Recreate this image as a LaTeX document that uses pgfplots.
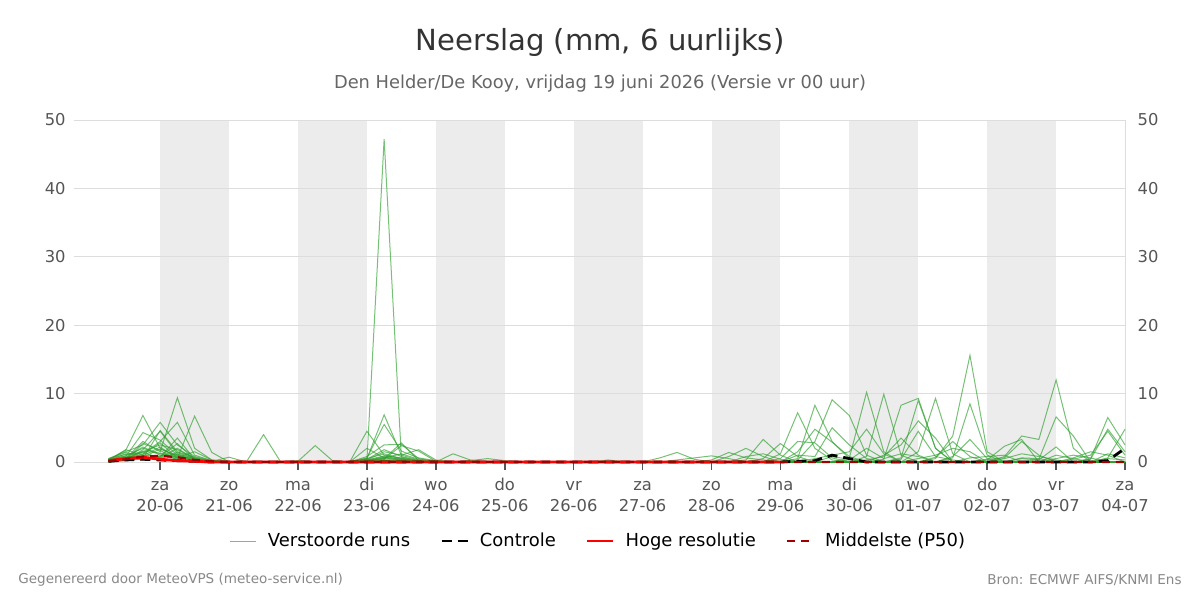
\documentclass[border=0pt]{standalone}
\usepackage{fontspec}
\setmainfont{DejaVu Sans}
\usepackage{pgfplots}
\usepackage{pgfplotstable}
\pgfplotsset{compat=1.18}
\definecolor{band}{HTML}{ECECEC}
\definecolor{gridc}{HTML}{DDDDDD}
\definecolor{ens}{RGB}{44,160,44}
\definecolor{p50}{HTML}{A00000}
\definecolor{titlec}{HTML}{333333}
\definecolor{subc}{HTML}{666666}
\definecolor{tickc}{HTML}{555555}
\definecolor{footc}{HTML}{888888}
\newcommand{\tl}[2]{\strut #1\\\strut #2}

\pgfplotstableread{
h m1 m2 m3 m4 m5 m6 m7 m8 m9 m10 m11 m12 m13 m14 m15 m16 m17 m18 m19 m20
6 0.3 0.2 0.5 0.1 0 0.2 0.4 0.1 0.3 0 0.2 0.1 0.5 0.3 0 0.2 0.1 0.4 0.2 0.1
12 1.7 0.8 1.5 0.5 0.3 1.2 0.9 0.4 1.8 0.2 0.6 0.3 1.1 0.7 0.5 0.9 0.2 1.4 0.6 0.3
18 6.8 4.3 2.5 3.0 1.8 1.2 2.0 1.5 1.0 0.7 2.2 0.5 1.4 0.9 1.6 0.3 2.7 0.8 1.1 0.4
24 2.0 3.2 5.8 1.5 4.5 3.0 1.2 2.5 0.8 1.9 1.0 4.6 0.6 2.2 1.3 0.9 1.7 0.5 2.8 0.7
30 0.8 1.0 2.5 9.4 1.2 5.8 0.6 1.8 2.7 0.9 0.4 1.5 2.0 0.5 0.7 1.1 0.3 1.4 0.6 3.5
36 0.3 0.4 0.8 2.0 0.5 1.0 6.7 0.6 0.3 0.5 0.2 0.7 0.4 0.3 1.5 0.2 0.1 0.5 0.3 0.4
42 0.1 0.1 0.2 0.3 0.1 0.2 1.4 0.1 0 0.2 0 0.1 0.1 0 0.3 0 0 0.1 0 0.1
48 0 0 0 0 0 0 0 0.7 0 0 0 0 0 0 0 0 0 0 0 0
54 0 0 0 0 0 0 0 0 0 0 0 0 0 0 0 0 0 0 0 0
60 0 0 0 0 4.0 0 0 0 0 0 0 0 0 0 0 0 0 0 0 0
66 0 0 0 0 0 0 0 0 0 0 0 0 0 0 0 0 0 0 0 0
72 0 0 0.2 0 0 0 0 0 0 0 0.1 0 0 0 0 0 0 0 0 0
78 0 0 0 0 0 0 0 0 0 0 2.4 0 0 0 0 0 0 0 0 0
84 0 0 0 0 0 0 0 0 0 0 0.2 0 0 0 0 0 0 0 0 0
90 0 0 0 0 0 0 0 0 0 0 0 0 0 0 0 0 0 0 0 0
96 0.3 4.5 0.5 0.8 0.2 0.4 2.0 0.1 0.6 0.3 0 0.2 0.4 0.5 0.1 0.3 0 0.2 0.1 0
102 0.5 1.0 6.9 2.5 0.8 1.8 0.6 0.3 5.5 0.9 0.2 47.2 0.4 1.2 0.6 1.5 0.3 0.7 0.5 0.2
108 2.8 0.5 1.0 2.6 0.4 0.8 1.2 0.2 1.6 0.6 0.1 0.7 2.4 0.5 0.3 1.0 0.2 0.4 0.3 0.1
114 0.2 0.1 0.3 0.5 0.1 0.2 0.4 0 0.6 0.1 0 0.2 1.6 0.1 0.1 1.8 0 0.1 0.1 0
120 0 0 0.1 0.1 0 0 0.1 0 0.2 0 0 0 0.1 0 0 0.3 0 0 0 0
126 0 0 0 0 1.2 0 0 0 0 0 0 0 0 0 0 0 0 0 0 0
132 0 0 0 0 0.3 0 0 0 0 0 0 0 0.2 0 0 0 0 0 0 0
138 0 0 0 0 0 0 0 0 0 0 0 0 0.5 0 0 0 0 0 0 0
144 0 0 0 0 0 0 0 0 0 0 0 0 0.2 0 0 0 0 0 0 0
150 0 0 0 0 0 0 0 0 0 0 0 0 0 0 0 0 0 0 0 0
156 0 0 0 0 0 0 0 0 0 0 0 0 0 0 0 0 0 0 0 0
162 0 0 0 0 0 0 0 0 0 0 0 0 0 0 0 0 0 0 0 0
168 0 0 0 0 0 0 0 0 0 0 0 0 0 0 0 0 0 0 0 0
174 0 0 0 0 0 0 0 0 0 0 0 0 0 0 0 0 0 0 0 0
180 0 0.3 0 0 0 0 0 0 0 0 0 0 0 0 0 0 0 0 0 0
186 0 0 0 0 0 0 0 0 0 0 0 0 0 0 0 0 0 0 0 0
192 0 0 0 0 0 0 0 0 0 0 0 0 0 0 0 0 0 0 0 0
198 0 0 0 0 0 0 0 0 0 0.6 0 0 0 0 0 0 0 0 0 0
204 0 0 0 0 0 0.3 0 0 0 1.4 0 0 0 0 0 0 0 0 0 0
210 0 0 0 0 0 0.6 0 0 0 0.4 0 0 0 0 0 0 0 0 0 0
216 0 0 0.3 0 0 0.9 0 0 0 0 0 0 0 0 0 0 0 0 0 0
222 0 0 1.4 0 0 0.5 0 0 0 0 0 0 0 0.8 0 0 0 0 0 0
228 0 0 0.6 0 0.3 0 0 0 0 0 0 0 0 2.0 0 0 0.8 0 0 0
234 0 0 0.3 0 3.3 0 0 0 0.5 0 0 0 0 0.8 0 0 1.2 0 0 0
240 0.5 0 0 0 1.0 0 0 0 2.7 0 1.2 0 0 0 0 0 0.4 0 0 0
246 3.0 0 0 0.5 0 0 0.3 0 0.8 0 7.2 0 0 0 1.0 0 0 1.5 0 0
252 2.8 0.5 0 8.3 0 0 3.0 0 0 0 2.0 0 0 0 0.8 0 0 4.8 0 0
258 0.6 1.0 0 3.0 0 0 9.1 0 0 0 0.3 0 0 0 5.0 0 0 2.9 0.8 0
264 0 1.5 0 0.5 0 0 6.8 0.6 0 0 0 0 0 0 2.5 0 0 0.8 0.4 0.3
270 0 4.8 0 0 0 0.8 1.0 10.2 0 0 0 0.3 0 0 0.5 0 0 0 0 2.0
276 0 1.2 0 0 0 9.9 0 1.5 0 0 0 0.8 0.4 0 0 1.0 0 0 0 0.5
282 0 0 0.6 0 0 1.0 0 0 0 0.4 0 3.5 8.3 0 0 2.5 0 0 0 1.2
288 0 0 9.0 0 0 0 0 0 0 4.5 0 1.0 9.3 0.5 0 6.0 1.5 0 0 0.8
294 0 0 2.0 0 0.7 0 0 0 0 0.8 0 0 2.0 1.0 0 3.5 9.3 0 0.5 0
300 0.8 0 0 0 3.0 0 0 0 0.6 0.3 0 0 0 2.0 0 0 1.2 0 3.8 0
306 3.3 0 0 0 0.8 0 0 0 8.5 0 0.6 0 0 1.5 0 0 0 0 15.6 0
312 0.5 0 0 0 0 0 0 0 1.0 0 0.8 0 0 0 0.4 0 0 0.3 1.5 0
318 0 0.5 0 0.8 0 0 0 0 0 0 1.0 0 0 0 0.6 0 0 2.3 0 0
324 0 1.2 0 3.8 0 0 0.6 0 0 0 0 0.5 0 0 3.0 0 0 3.3 0 0
330 0 0.8 0 3.3 0 0 0.5 0.4 0 0 0 0.3 0 0 1.0 0 0 0 0 0
336 0 0.3 0 12.0 0 1.0 0 6.6 0 0 0 2.2 0 0 0 0.5 0 0 0 0
342 0 0 0 2.0 0 0.5 0 3.8 0 0 0 0 0.4 0 0 1.0 0 0 0 0.6
348 0 0 0.5 0 0 0 0 0 0 0.4 0 0 1.0 0 0 0.6 0 0 0 1.5
354 0 0 6.5 0 0 0 0 0 0 4.8 0 0 4.5 1.2 0 0 0.6 0 0.5 1.0
360 0 0 2.5 0 0 0 0 0 0 1.5 0 0 1.0 0.6 0 0 4.8 0 0.3 0
}\enstable

\begin{document}
\begin{tikzpicture}[x=1bp,y=1bp]
\path (0,0) rectangle (600,300);
\node[text=titlec, font=\fontsize{14.6}{17}\selectfont] at (300,279) {Neerslag (mm, 6 uurlijks)};
\node[text=subc, font=\fontsize{8.95}{10}\selectfont] at (300,258) {Den Helder/De Kooy, vrijdag 19 juni 2026 (Versie vr 00 uur)};
\node[text=footc, anchor=west, inner sep=0pt, font=\fontsize{6.8}{8}\selectfont] at (9,10) {Gegenereerd door MeteoVPS (meteo-service.nl)};
\node[text=footc, anchor=east, inner sep=0pt, font=\fontsize{6.8}{8}\selectfont] at (591,10) {Bron: ECMWF AIFS/KNMI Ens};

% background axis: day bands + left tick labels
\begin{axis}[
  at={(37bp,69bp)}, anchor=south west,
  width=525.5bp, height=171bp, scale only axis,
  xmin=-6, xmax=360, ymin=0, ymax=50,
  hide x axis,
  axis line style={draw=none},
  ytick={0,10,20,30,40,50},
  every tick/.style={draw opacity=0},
  tick align=outside, major tick length=4bp,
  yticklabel style={text=tickc, inner sep=0pt, font=\fontsize{8.2}{10}\selectfont},
  /pgf/number format/assume math mode=true,
]
\addplot[draw=none, fill=band, forget plot] coordinates {(24,50) (48,50)} \closedcycle;
\addplot[draw=none, fill=band, forget plot] coordinates {(72,50) (96,50)} \closedcycle;
\addplot[draw=none, fill=band, forget plot] coordinates {(120,50) (144,50)} \closedcycle;
\addplot[draw=none, fill=band, forget plot] coordinates {(168,50) (192,50)} \closedcycle;
\addplot[draw=none, fill=band, forget plot] coordinates {(216,50) (240,50)} \closedcycle;
\addplot[draw=none, fill=band, forget plot] coordinates {(264,50) (288,50)} \closedcycle;
\addplot[draw=none, fill=band, forget plot] coordinates {(312,50) (336,50)} \closedcycle;
\end{axis}

\begin{axis}[
  at={(37bp,69bp)}, anchor=south west,
  width=525.5bp, height=171bp, scale only axis,
  xmin=-6, xmax=360, ymin=0, ymax=50,
  clip=false,
  axis x line=bottom, axis y line=right,
  axis line style={-, gridc, line width=0.5bp},
  ymajorgrids, grid style={gridc, line width=0.5bp},
  ytick={0,10,20,30,40,50},
  every tick/.style={draw opacity=0},
  yticklabel style={text=tickc, inner sep=0pt, xshift=4bp, font=\fontsize{8.2}{10}\selectfont},
  xtick={24,48,...,360},
  xticklabels={\tl{za}{20-06},\tl{zo}{21-06},\tl{ma}{22-06},\tl{di}{23-06},\tl{wo}{24-06},\tl{do}{25-06},\tl{vr}{26-06},\tl{za}{27-06},\tl{zo}{28-06},\tl{ma}{29-06},\tl{di}{30-06},\tl{wo}{01-07},\tl{do}{02-07},\tl{vr}{03-07},\tl{za}{04-07}},
  xticklabel style={text=tickc, align=center, inner sep=1bp, yshift=-3.5bp, font=\fontsize{8.2}{10.5}\selectfont},
  /pgf/number format/assume math mode=true,
  legend style={at={(0.5,-0.231)}, anchor=center, draw=none, fill=none,
    legend columns=4, font=\fontsize{9}{10}\selectfont,
    /tikz/every odd column/.append style={column sep=3.5bp},
    /tikz/every even column/.append style={column sep=13bp}},
  legend image code/.code={\draw[#1] (0bp,0bp) -- (13bp,0bp);},
  legend cell align=left,
]
% tick marks below the time axis
\addplot[ycomb, tickc, line width=0.8bp, forget plot] coordinates {
(24,-1.17)(48,-1.17)(72,-1.17)(96,-1.17)(120,-1.17)(144,-1.17)(168,-1.17)(192,-1.17)
(216,-1.17)(240,-1.17)(264,-1.17)(288,-1.17)(312,-1.17)(336,-1.17)(360,-1.17)};
\addplot[ens, line width=0.5bp, opacity=0.65] table[x=h, y=m1] {\enstable};
\addlegendentry{Verstoorde runs}
\pgfplotsinvokeforeach{2,...,20}{
  \addplot[ens, line width=0.5bp, opacity=0.65, forget plot] table[x=h, y=m#1] {\enstable};
}
\addplot[black, line width=1.4bp, dash pattern=on 5bp off 3bp] coordinates {
(6,0.1)(12,0.3)(18,0.4)(24,0.3)(30,0.2)(36,0.1)(42,0)(48,0)(240,0)(246,0.1)(252,0.2)(258,1.0)(264,0.5)(270,0)(348,0)(354,0.2)(360,2.0)};
\addlegendentry{Controle}
\addplot[red, line width=1.4bp] coordinates {
(6,0.2)(12,0.5)(18,0.7)(24,0.4)(30,0.2)(36,0.1)(42,0)(240,0)};
\addlegendentry{Hoge resolutie}
\addplot[p50, line width=1.1bp, dash pattern=on 4bp off 3bp] coordinates {
(6,0.1)(12,0.4)(18,0.8)(24,0.9)(30,0.7)(36,0.3)(42,0.1)(48,0)(360,0)};
\addlegendentry{Middelste (P50)}
\end{axis}
\end{tikzpicture}
\end{document}
